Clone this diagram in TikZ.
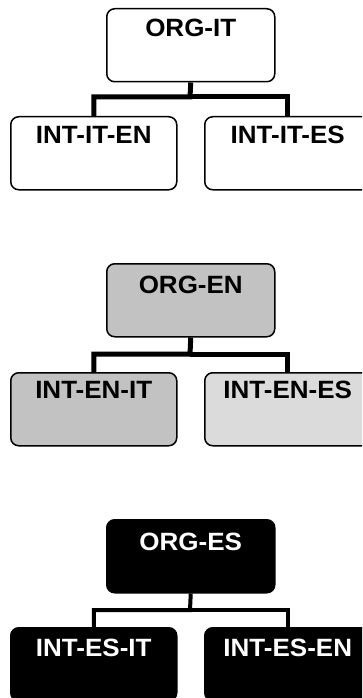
\documentclass[tikz,border=0pt]{standalone}
\usepackage{fontspec}
\setmainfont{Liberation Sans}
\begin{document}
\begin{tikzpicture}[x=1pt,y=1pt,
  box/.style={draw=black, line width=1.5pt, rounded corners=8pt, minimum width=166pt, minimum height=73pt, anchor=north west, inner sep=0pt},
  orgbox/.style={box, minimum width=168pt},
  lbl/.style={anchor=base, font=\fontsize{25}{30}\selectfont\bfseries, inner sep=0pt, xscale=1.04},
  conn/.style={line width=5pt, line join=miter},
  darkfill/.style={fill=black!24},
  lightfill/.style={fill=black!14}]
\useasboundingbox (0,0) rectangle (362,-698);
\begin{scope}
\clip (0,0) rectangle (362,-698);
% group 1
\node[orgbox, fill=white] (o1) at (106,-8) {};
\node[box, fill=white] (a1) at (10,-116) {};
\node[box, fill=white] (b1) at (204,-116) {};
\coordinate (j1) at (190,-97);
\draw[conn] (o1.south) -- (j1) -| (a1.north);
\draw[conn] (j1) -| (b1.north);
\node[lbl] (t1) at ([yshift=-29pt]o1.north) {ORG-IT};
\node[lbl] (t2) at ([yshift=-27pt]a1.north) {INT-IT-EN};
\node[lbl] (t3) at ([yshift=-27pt]b1.north) {INT-IT-ES};
% group 2
\node[orgbox, darkfill] (o2) at (106,-263) {};
\node[box, darkfill] (a2) at (10,-372) {};
\node[box, lightfill] (b2) at (204,-372) {};
\coordinate (j2) at (190,-354);
\draw[conn] (o2.south) -- (j2) -| (a2.north);
\draw[conn] (j2) -| (b2.north);
\node[lbl] (t4) at ([yshift=-30pt]o2.north) {ORG-EN};
\node[lbl] (t5) at ([yshift=-26pt]a2.north) {INT-EN-IT};
\node[lbl] (t6) at ([yshift=-26pt]b2.north) {INT-EN-ES};
% group 3
\node[orgbox, fill=black] (o3) at (106,-519) {};
\node[box, fill=black] (a3) at (10,-627) {};
\node[box, fill=black] (b3) at (204,-627) {};
\coordinate (j3) at (190,-610);
\draw[conn, line width=4pt] (o3.south) -- (j3) -| (a3.north);
\draw[conn, line width=4pt] (j3) -| (b3.north);
\node[lbl, text=white] (t7) at ([yshift=-31pt]o3.north) {ORG-ES};
\node[lbl, text=white] (t8) at ([yshift=-29pt]a3.north) {INT-ES-IT};
\node[lbl, text=white] (t9) at ([yshift=-29pt]b3.north) {INT-ES-EN};
\end{scope}
\end{tikzpicture}
\end{document}
